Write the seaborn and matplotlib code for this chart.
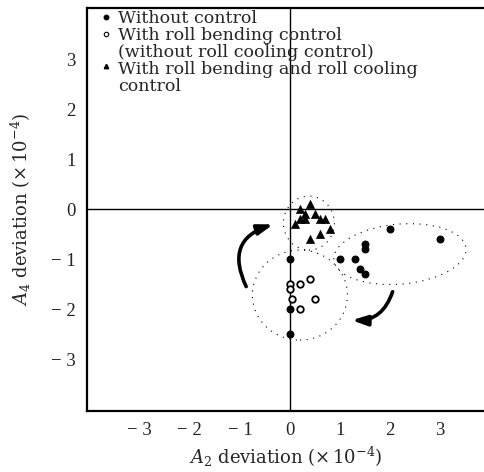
import matplotlib
matplotlib.use("Agg")
import matplotlib.pyplot as plt
import seaborn as sns
import pandas as pd
from matplotlib.patches import Ellipse

# A2 / A4 crown deviations, units of 1e-4
no_ctrl_x = [2.0, 3.0, 1.5, 1.5, 1.0, 1.3, 1.4, 1.5, 0.0, 0.0, 0.0]
no_ctrl_y = [-0.4, -0.6, -0.7, -0.8, -1.0, -1.0, -1.2, -1.3, -1.0, -2.0, -2.5]

bend_x = [0.0, 0.0, 0.2, 0.4, 0.05, 0.5, 0.2]
bend_y = [-1.5, -1.6, -1.5, -1.4, -1.8, -1.8, -2.0]

both_x = [0.4, 0.2, 0.3, 0.5, 0.2, 0.3, 0.6, 0.7, 0.1, 0.8, 0.6, 0.4]
both_y = [0.1, 0.0, -0.1, -0.1, -0.2, -0.2, -0.2, -0.2, -0.3, -0.4, -0.5, -0.6]

ticks = [-3, -2, -1, 0, 1, 2, 3]
tick_labels = ["\u2212 3", "\u2212 2", "\u2212 1", "0", "1", "2", "3"]

legend_lines = ["Without control",
                "With roll bending control",
                "(without roll cooling control)",
                "With roll bending and roll cooling",
                "control"]

sns.set_style("white")
plt.rcParams["font.family"] = ["Liberation Serif", "DejaVu Serif"]
plt.rcParams["mathtext.fontset"] = "dejavuserif"

fig = plt.figure(figsize=(4.85, 4.72), dpi=100)
ax = fig.add_axes([0.179, 0.129, 0.821, 0.854])

df_no = pd.DataFrame({"x": no_ctrl_x, "y": no_ctrl_y})
df_bend = pd.DataFrame({"x": bend_x, "y": bend_y})
df_both = pd.DataFrame({"x": both_x, "y": both_y})

ax.axhline(0, color="black", lw=1.0, zorder=1)
ax.axvline(0, color="black", lw=1.0, zorder=1)

sns.scatterplot(data=df_no, x="x", y="y", ax=ax, marker="o", s=24,
                color="black", edgecolor="black", linewidth=0.8, zorder=3)
sns.scatterplot(data=df_bend, x="x", y="y", ax=ax, marker="o", s=22,
                facecolor="white", edgecolor="black", linewidth=1.3, zorder=3)
sns.scatterplot(data=df_both, x="x", y="y", ax=ax, marker="^", s=34,
                color="black", edgecolor="black", linewidth=0.5, zorder=3)

# dotted groupings
for (cx, cy), w, h, ang in [((0.38, -0.28), 1.02, 1.08, 0),
                            ((2.2, -0.9), 2.65, 1.2, 5),
                            ((0.2, -1.72), 1.9, 1.8, 0)]:
    ax.add_patch(Ellipse((cx, cy), w, h, angle=ang, fill=False,
                         ls=(0, (1, 5)), lw=0.8, color="black"))

# trend arrows
ax.annotate("", xy=(-0.28, -0.29), xytext=(-0.85, -1.6),
            arrowprops=dict(arrowstyle="-|>,head_length=0.9,head_width=0.3",
                            connectionstyle="arc3,rad=-0.6", color="black", lw=2.6))
ax.annotate("", xy=(1.18, -2.22), xytext=(2.07, -1.6),
            arrowprops=dict(arrowstyle="-|>,head_length=0.9,head_width=0.3",
                            connectionstyle="arc3,rad=-0.4", color="black", lw=2.6))

# legend text
lfont = dict(family="DejaVu Serif", fontsize=12.6, va="center", ha="left")
ax.plot([-3.68], [3.84], "o", ms=3.2, color="black")
ax.plot([-3.68], [3.51], "o", ms=3.2, mfc="white", mec="black", mew=0.8)
ax.plot([-3.68], [2.87], "^", ms=3.2, color="black")
for yy, line in zip([3.82, 3.48, 3.14, 2.8, 2.46], legend_lines):
    ax.text(-3.44, yy, line, **lfont)

ax.set_xlim(-4.06, 3.9)
ax.set_ylim(-4.04, 4.02)
ax.set_xticks(ticks)
ax.set_xticklabels(tick_labels)
ax.set_yticks(ticks)
ax.set_yticklabels(tick_labels)
ax.tick_params(direction="in", length=7, width=1.4, labelsize=13.5, pad=8)
ax.set_xlabel(r"$A_2$ deviation ($\times\,10^{-4}$)", family="DejaVu Serif",
              fontsize=13, labelpad=4)
ax.set_ylabel(r"$A_4$ deviation ($\times\,10^{-4}$)", family="DejaVu Serif",
              fontsize=13, labelpad=13)

for side in ["left", "bottom", "top"]:
    ax.spines[side].set_linewidth(1.6)
    ax.spines[side].set_color("black")
ax.spines["right"].set_visible(False)

fig.savefig("out.png", dpi=100)
